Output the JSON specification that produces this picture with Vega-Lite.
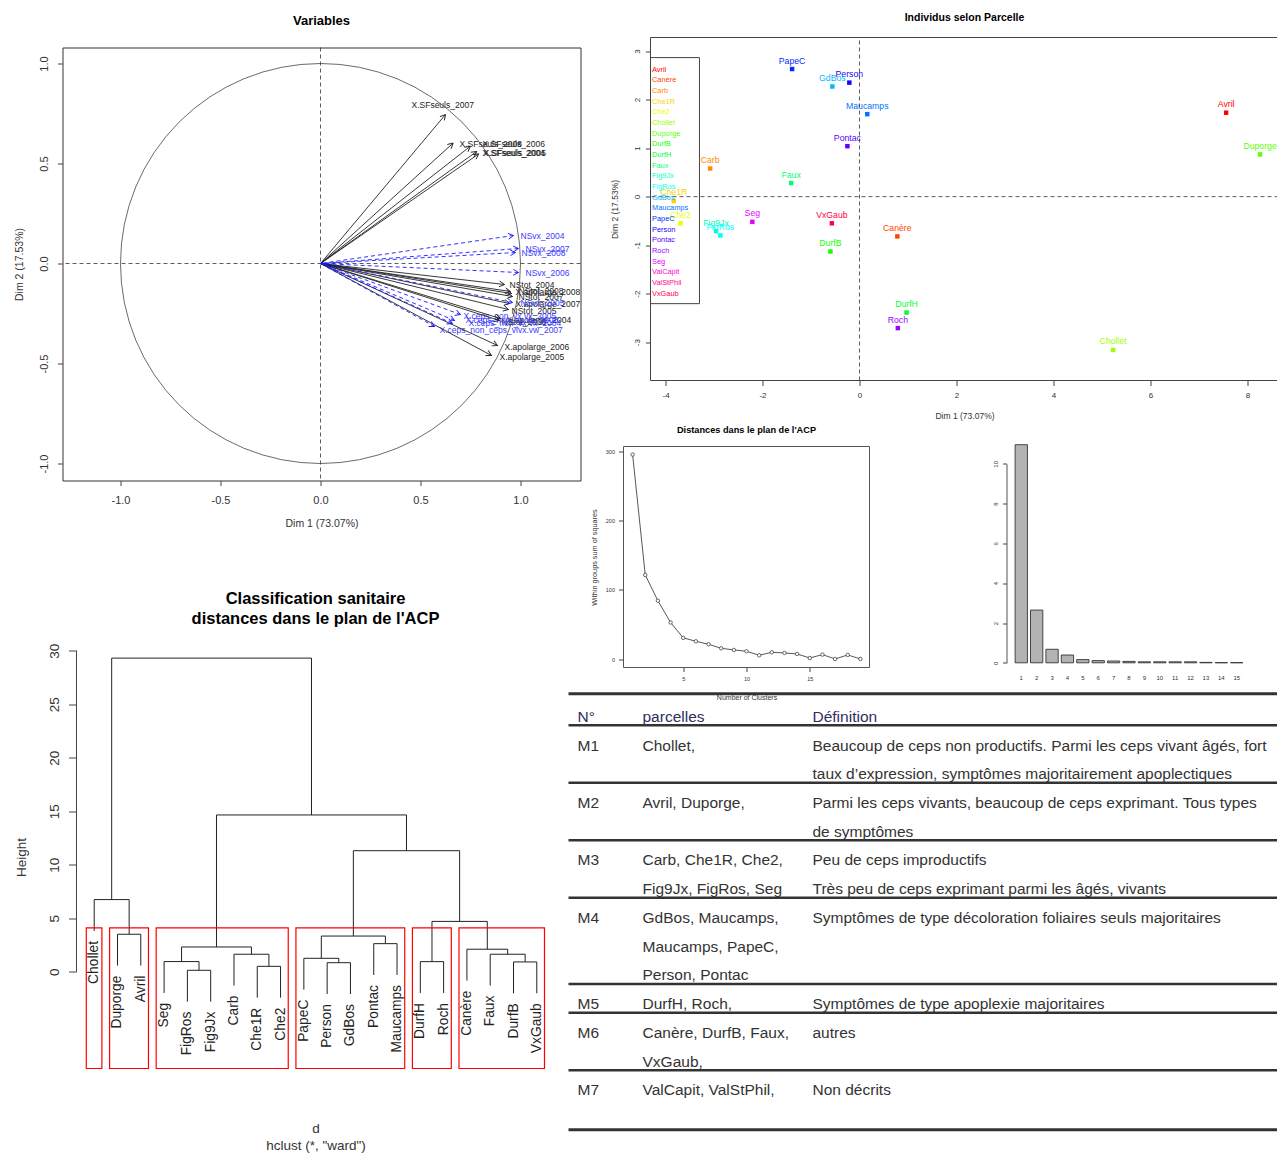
{
  "$schema": "https://vega.github.io/schema/vega-lite/v6.json",
  "padding": {"left": 13.5, "top": 12.5, "right": 0, "bottom": 0},
  "autosize": {"type": "pad"},
  "background": "white",
  "config": {
    "font": "Liberation Sans",
    "view": {"stroke": null},
    "axis": {"grid": false, "domain": false, "labelFont": "Liberation Sans", "titleFont": "Liberation Sans", "labelColor": "#333", "titleColor": "#333", "tickColor": "#444", "titleFontWeight": "normal", "labelFlush": false, "labelOverlap": false},
    "title": {"font": "Liberation Sans", "fontWeight": "bold", "color": "#000", "anchor": "middle", "frame": "group"},
    "text": {"font": "Liberation Sans"}
  },
  "datasets": {
    "vars": [
      {"name": "X.SFseuls_2007", "x": 0.625, "y": 0.745, "lx": 0.455, "ly": 0.795, "grp": "active"},
      {"name": "X.SFseuls_2008", "x": 0.663, "y": 0.602, "lx": 0.695, "ly": 0.6, "grp": "active"},
      {"name": "X.SFseuls_2006", "x": 0.749, "y": 0.586, "lx": 0.81, "ly": 0.6, "grp": "active"},
      {"name": "X.SFseuls_2004", "x": 0.781, "y": 0.56, "lx": 0.81, "ly": 0.555, "grp": "active"},
      {"name": "X.SFseuls_2005", "x": 0.791, "y": 0.548, "lx": 0.815, "ly": 0.553, "grp": "active"},
      {"name": "NStot_2004", "x": 0.92, "y": -0.105, "lx": 0.945, "ly": -0.105, "grp": "active"},
      {"name": "NStot_2008", "x": 0.95, "y": -0.14, "lx": 0.99, "ly": -0.135, "grp": "active"},
      {"name": "X.apolarge_2008", "x": 0.955, "y": -0.15, "lx": 0.975, "ly": -0.14, "grp": "active"},
      {"name": "NStot_2007", "x": 0.96, "y": -0.165, "lx": 0.99, "ly": -0.165, "grp": "active"},
      {"name": "X.apolarge_2007", "x": 0.945, "y": -0.2, "lx": 0.975, "ly": -0.2, "grp": "active"},
      {"name": "NStot_2005", "x": 0.94, "y": -0.23, "lx": 0.955, "ly": -0.235, "grp": "active"},
      {"name": "NStot_2006", "x": 0.895, "y": -0.285, "lx": 0.905, "ly": -0.29, "grp": "active"},
      {"name": "X.apolarge_2004", "x": 0.9, "y": -0.275, "lx": 0.93, "ly": -0.28, "grp": "active"},
      {"name": "X.apolarge_2006", "x": 0.885, "y": -0.41, "lx": 0.92, "ly": -0.415, "grp": "active"},
      {"name": "X.apolarge_2005", "x": 0.855, "y": -0.46, "lx": 0.895, "ly": -0.465, "grp": "active"},
      {"name": "NSvx_2004", "x": 0.965, "y": 0.14, "lx": 1.0, "ly": 0.14, "grp": "supp"},
      {"name": "NSvx_2007", "x": 0.99, "y": 0.075, "lx": 1.025, "ly": 0.075, "grp": "supp"},
      {"name": "NSvx_2008", "x": 0.975, "y": 0.055, "lx": 1.005, "ly": 0.055, "grp": "supp"},
      {"name": "NSvx_2006", "x": 0.99, "y": -0.045, "lx": 1.025, "ly": -0.045, "grp": "supp"},
      {"name": "NSvx_2005", "x": 0.96, "y": -0.195, "lx": 1.0, "ly": -0.195, "grp": "supp"},
      {"name": "X.ceps_non_vx.vx_2005", "x": 0.7, "y": -0.255, "lx": 0.715, "ly": -0.26, "grp": "supp"},
      {"name": "X.ceps_non_vx.vx_2008", "x": 0.67, "y": -0.285, "lx": 0.725, "ly": -0.28, "grp": "supp"},
      {"name": "X.ceps_non_vx.vx_2004", "x": 0.66, "y": -0.3, "lx": 0.74, "ly": -0.295, "grp": "supp"},
      {"name": "X.ceps_non_ceps_vivx.vw_2007", "x": 0.57, "y": -0.315, "lx": 0.595, "ly": -0.33, "grp": "supp"}
    ],
    "indiv": [
      {"name": "PapeC", "x": -1.39, "y": 2.63},
      {"name": "Person", "x": -0.21, "y": 2.35},
      {"name": "GdBos", "x": -0.56, "y": 2.27},
      {"name": "Maucamps", "x": 0.16, "y": 1.7},
      {"name": "Pontac", "x": -0.25, "y": 1.04},
      {"name": "Avril", "x": 7.56, "y": 1.73},
      {"name": "Duporge", "x": 8.26, "y": 0.87},
      {"name": "Carb", "x": -3.08, "y": 0.58},
      {"name": "Faux", "x": -1.41, "y": 0.28},
      {"name": "Che1R", "x": -3.83, "y": -0.09},
      {"name": "Che2", "x": -3.69, "y": -0.55},
      {"name": "Fig9Jx", "x": -2.96, "y": -0.71},
      {"name": "FigRos", "x": -2.87, "y": -0.8},
      {"name": "Seg", "x": -2.21, "y": -0.52},
      {"name": "VxGaub", "x": -0.57, "y": -0.55},
      {"name": "Canère", "x": 0.78, "y": -0.82},
      {"name": "DurfB", "x": -0.6, "y": -1.13},
      {"name": "DurfH", "x": 0.97, "y": -2.39},
      {"name": "Roch", "x": 0.79, "y": -2.71},
      {"name": "Chollet", "x": 5.23, "y": -3.16}
    ],
    "parcelles": [
      {"name": "Avril"}, {"name": "Canère"}, {"name": "Carb"}, {"name": "Che1R"}, {"name": "Che2"},
      {"name": "Chollet"}, {"name": "Duporge"}, {"name": "DurfB"}, {"name": "DurfH"}, {"name": "Faux"},
      {"name": "Fig9Jx"}, {"name": "FigRos"}, {"name": "GdBos"}, {"name": "Maucamps"}, {"name": "PapeC"},
      {"name": "Person"}, {"name": "Pontac"}, {"name": "Roch"}, {"name": "Seg"}, {"name": "ValCapit"},
      {"name": "ValStPhil"}, {"name": "VxGaub"}
    ],
    "wss": [
      {"k": 1, "wss": 295.2}, {"k": 2, "wss": 121.6}, {"k": 3, "wss": 84.4}, {"k": 4, "wss": 53.1},
      {"k": 5, "wss": 30.9}, {"k": 6, "wss": 26.0}, {"k": 7, "wss": 21.7}, {"k": 8, "wss": 15.9},
      {"k": 9, "wss": 13.5}, {"k": 10, "wss": 11.6}, {"k": 11, "wss": 5.8}, {"k": 12, "wss": 10.1},
      {"k": 13, "wss": 9.2}, {"k": 14, "wss": 7.7}, {"k": 15, "wss": 1.9}, {"k": 16, "wss": 6.8},
      {"k": 17, "wss": 0.5}, {"k": 18, "wss": 6.3}, {"k": 19, "wss": 0.5}
    ],
    "eig": [
      {"k": 1, "eig": 10.96}, {"k": 2, "eig": 2.65}, {"k": 3, "eig": 0.68}, {"k": 4, "eig": 0.39},
      {"k": 5, "eig": 0.16}, {"k": 6, "eig": 0.11}, {"k": 7, "eig": 0.09}, {"k": 8, "eig": 0.07},
      {"k": 9, "eig": 0.05}, {"k": 10, "eig": 0.05}, {"k": 11, "eig": 0.05}, {"k": 12, "eig": 0.05},
      {"k": 13, "eig": 0.02}, {"k": 14, "eig": 0.01}, {"k": 15, "eig": 0.01}
    ],
    "merges": [
      {"id": "A", "xl": 2, "xr": 3, "h": 3.51, "hl": 0.58, "hr": 0.58},
      {"id": "B", "xl": 1, "xr": 2.5, "h": 6.75, "hl": 3.82, "hr": 3.51},
      {"id": "C", "xl": 5, "xr": 6, "h": 0.14, "hl": -2.79, "hr": -2.79},
      {"id": "D", "xl": 4, "xr": 5.5, "h": 0.955, "hl": -1.975, "hr": 0.14},
      {"id": "E", "xl": 8, "xr": 9, "h": 0.51, "hl": -2.42, "hr": -2.42},
      {"id": "F", "xl": 7, "xr": 8.5, "h": 1.64, "hl": -1.29, "hr": 0.51},
      {"id": "G", "xl": 4.75, "xr": 7.75, "h": 2.32, "hl": 0.955, "hr": 1.64},
      {"id": "H", "xl": 11, "xr": 12, "h": 0.85, "hl": -2.08, "hr": -2.08},
      {"id": "I", "xl": 10, "xr": 11.5, "h": 1.26, "hl": -1.67, "hr": 0.85},
      {"id": "J", "xl": 13, "xr": 14, "h": 2.63, "hl": -0.3, "hr": -0.3},
      {"id": "K", "xl": 10.75, "xr": 13.5, "h": 3.34, "hl": 1.26, "hr": 2.63},
      {"id": "L", "xl": 15, "xr": 16, "h": 0.95, "hl": -1.98, "hr": -1.98},
      {"id": "M", "xl": 19, "xr": 20, "h": 0.92, "hl": -2.01, "hr": -2.01},
      {"id": "N", "xl": 18, "xr": 19.5, "h": 1.64, "hl": -1.29, "hr": 0.92},
      {"id": "O", "xl": 17, "xr": 18.75, "h": 2.11, "hl": -0.82, "hr": 1.64},
      {"id": "P", "xl": 15.5, "xr": 17.875, "h": 4.71, "hl": 0.95, "hr": 2.11},
      {"id": "Q", "xl": 12.125, "xr": 16.6875, "h": 11.32, "hl": 3.34, "hr": 4.71},
      {"id": "R", "xl": 6.25, "xr": 14.406, "h": 14.66, "hl": 2.32, "hr": 11.32},
      {"id": "S", "xl": 1.75, "xr": 10.328, "h": 29.32, "hl": 6.75, "hr": 14.66}
    ],
    "leaves": [
      {"leaf": "Chollet", "pos": 1, "end": 3.82}, {"leaf": "Duporge", "pos": 2, "end": 0.58},
      {"leaf": "Avril", "pos": 3, "end": 0.58}, {"leaf": "Seg", "pos": 4, "end": -1.975},
      {"leaf": "FigRos", "pos": 5, "end": -2.79}, {"leaf": "Fig9Jx", "pos": 6, "end": -2.79},
      {"leaf": "Carb", "pos": 7, "end": -1.29}, {"leaf": "Che1R", "pos": 8, "end": -2.42},
      {"leaf": "Che2", "pos": 9, "end": -2.42}, {"leaf": "PapeC", "pos": 10, "end": -1.67},
      {"leaf": "Person", "pos": 11, "end": -2.08}, {"leaf": "GdBos", "pos": 12, "end": -2.08},
      {"leaf": "Pontac", "pos": 13, "end": -0.3}, {"leaf": "Maucamps", "pos": 14, "end": -0.3},
      {"leaf": "DurfH", "pos": 15, "end": -1.98}, {"leaf": "Roch", "pos": 16, "end": -1.98},
      {"leaf": "Canère", "pos": 17, "end": -0.82}, {"leaf": "Faux", "pos": 18, "end": -1.29},
      {"leaf": "DurfB", "pos": 19, "end": -2.01}, {"leaf": "VxGaub", "pos": 20, "end": -2.01}
    ],
    "boxes": [
      {"cluster": "M1", "x1": 0.66, "x2": 1.33},
      {"cluster": "M2", "x1": 1.66, "x2": 3.33},
      {"cluster": "M3", "x1": 3.66, "x2": 9.33},
      {"cluster": "M4", "x1": 9.66, "x2": 14.33},
      {"cluster": "M5", "x1": 14.66, "x2": 16.33},
      {"cluster": "M6", "x1": 16.66, "x2": 20.33}
    ],
    "table": [
      {"group": "H", "line": 0, "col": 1, "text": "N°"},
      {"group": "H", "line": 0, "col": 2, "text": "parcelles"},
      {"group": "H", "line": 0, "col": 3, "text": "Définition"},
      {"group": "M1", "line": 1, "col": 1, "text": "M1"},
      {"group": "M1", "line": 1, "col": 2, "text": "Chollet,"},
      {"group": "M1", "line": 1, "col": 3, "text": "Beaucoup de ceps non productifs. Parmi les ceps vivant âgés, fort"},
      {"group": "M1", "line": 2, "col": 3, "text": "taux d’expression, symptômes majoritairement apoplectiques"},
      {"group": "M2", "line": 3, "col": 1, "text": "M2"},
      {"group": "M2", "line": 3, "col": 2, "text": "Avril, Duporge,"},
      {"group": "M2", "line": 3, "col": 3, "text": "Parmi les ceps vivants, beaucoup de ceps exprimant. Tous types"},
      {"group": "M2", "line": 4, "col": 3, "text": "de symptômes"},
      {"group": "M3", "line": 5, "col": 1, "text": "M3"},
      {"group": "M3", "line": 5, "col": 2, "text": "Carb, Che1R, Che2,"},
      {"group": "M3", "line": 5, "col": 3, "text": "Peu de ceps improductifs"},
      {"group": "M3", "line": 6, "col": 2, "text": "Fig9Jx, FigRos, Seg"},
      {"group": "M3", "line": 6, "col": 3, "text": "Très peu de ceps exprimant parmi les âgés, vivants"},
      {"group": "M4", "line": 7, "col": 1, "text": "M4"},
      {"group": "M4", "line": 7, "col": 2, "text": "GdBos, Maucamps,"},
      {"group": "M4", "line": 7, "col": 3, "text": "Symptômes de type décoloration foliaires seuls majoritaires"},
      {"group": "M4", "line": 8, "col": 2, "text": "Maucamps, PapeC,"},
      {"group": "M4", "line": 9, "col": 2, "text": "Person, Pontac"},
      {"group": "M5", "line": 10, "col": 1, "text": "M5"},
      {"group": "M5", "line": 10, "col": 2, "text": "DurfH, Roch,"},
      {"group": "M5", "line": 10, "col": 3, "text": "Symptômes de type apoplexie majoritaires"},
      {"group": "M6", "line": 11, "col": 1, "text": "M6"},
      {"group": "M6", "line": 11, "col": 2, "text": "Canère, DurfB, Faux,"},
      {"group": "M6", "line": 11, "col": 3, "text": "autres"},
      {"group": "M6", "line": 12, "col": 2, "text": "VxGaub,"},
      {"group": "M7", "line": 13, "col": 1, "text": "M7"},
      {"group": "M7", "line": 13, "col": 2, "text": "ValCapit, ValStPhil,"},
      {"group": "M7", "line": 13, "col": 3, "text": "Non décrits"}
    ]
  },
  "spacing": -15,
  "hconcat": [
    {
      "spacing": 61,
      "vconcat": [
        {
          "width": 518, "height": 433,
          "title": {"text": "Variables", "fontSize": 13, "offset": 19},
          "view": {"stroke": "#333", "strokeWidth": 1},
          "data": {"name": "vars"},
          "layer": [
            {
              "mark": {"type": "text", "align": "left", "baseline": "middle", "fontSize": 8.5, "clip": true},
              "encoding": {
                "x": {"field": "lx", "type": "quantitative", "scale": {"domain": [-1.29, 1.3], "nice": false, "zero": false},
                  "axis": {"values": [-1, -0.5, 0, 0.5, 1], "labelExpr": "replace(format(datum.value, '.1f'), '−', '-')", "title": "Dim 1 (73.07%)", "labelFontSize": 11, "titleFontSize": 10.5, "tickSize": 5, "labelPadding": 9, "titlePadding": 13}},
                "y": {"field": "ly", "type": "quantitative", "scale": {"domain": [-1.085, 1.08], "nice": false, "zero": false},
                  "axis": {"values": [-1, -0.5, 0, 0.5, 1], "labelExpr": "replace(format(datum.value, '.1f'), '−', '-')", "title": "Dim 2 (17.53%)", "labelAngle": 270, "labelAlign": "center", "labelBaseline": "bottom", "labelFontSize": 11, "titleFontSize": 10.5, "tickSize": 5, "labelPadding": 8, "titlePadding": 14}},
                "text": {"field": "name", "type": "nominal"},
                "color": {"condition": {"test": "datum.grp == 'supp'", "value": "#3a3aff"}, "value": "#222"}
              }
            },
            {
              "data": {"values": [{"cx": 0, "cy": 0}]},
              "mark": {"type": "point", "shape": "circle", "size": 160000, "filled": false, "stroke": "#444", "strokeWidth": 0.8, "opacity": 1},
              "encoding": {
                "x": {"field": "cx", "type": "quantitative"},
                "y": {"field": "cy", "type": "quantitative"}
              }
            },
            {"data": {"values": [{"c": 0}]}, "mark": {"type": "rule", "strokeDash": [4, 3], "color": "#333", "strokeWidth": 0.8}, "encoding": {"x": {"field": "c", "type": "quantitative"}}},
            {"data": {"values": [{"c": 0}]}, "mark": {"type": "rule", "strokeDash": [4, 3], "color": "#333", "strokeWidth": 0.8}, "encoding": {"y": {"field": "c", "type": "quantitative"}}},
            {
              "transform": [{"filter": "datum.grp == 'active'"}],
              "mark": {"type": "rule", "strokeWidth": 0.9, "color": "#222"},
              "encoding": {
                "x": {"field": "x", "type": "quantitative"}, "y": {"field": "y", "type": "quantitative"},
                "x2": {"datum": 0}, "y2": {"datum": 0}
              }
            },
            {
              "transform": [{"filter": "datum.grp == 'supp'"}],
              "mark": {"type": "rule", "strokeWidth": 0.9, "color": "#1a1aff", "strokeDash": [4, 3]},
              "encoding": {
                "x": {"field": "x", "type": "quantitative"}, "y": {"field": "y", "type": "quantitative"},
                "x2": {"datum": 0}, "y2": {"datum": 0}
              }
            },
            {
              "transform": [{"calculate": "90 - atan2(datum.y, datum.x) * 180 / PI", "as": "ang"}],
              "mark": {"type": "point", "shape": "M-0.55,1L0,0L0.55,1", "size": 110, "filled": false, "strokeWidth": 0.9, "opacity": 1},
              "encoding": {
                "x": {"field": "x", "type": "quantitative"},
                "y": {"field": "y", "type": "quantitative"},
                "angle": {"field": "ang", "type": "quantitative", "scale": null},
                "color": {"condition": {"test": "datum.grp == 'supp'", "value": "#1a1aff"}, "value": "#222"}
              }
            }
          ]
        },
        {
          "width": 492, "height": 423,
          "title": {"text": ["Classification sanitaire", "distances dans le plan de l'ACP"], "fontSize": 16.5, "offset": 16, "lineHeight": 20, "dx": 7},
          "layer": [
            {
              "data": {"name": "merges"},
              "mark": {"type": "rule", "color": "#222", "strokeWidth": 1},
              "encoding": {
                "x": {"field": "xl", "type": "quantitative", "scale": {"domain": [0.24, 20.76], "range": [14, 492], "nice": false, "zero": false},
                  "axis": {"title": ["d", "hclust (*, \"ward\")"], "labels": false, "ticks": false, "titleFontSize": 13.5, "titlePadding": 53, "titleLineHeight": 17}},
                "x2": {"field": "xr"},
                "y": {"field": "h", "type": "quantitative", "scale": {"domain": [-9.04, 30.5], "nice": false, "zero": false},
                  "axis": {"values": [0, 5, 10, 15, 20, 25, 30], "title": "Height", "offset": -14, "labelAngle": 270, "labelAlign": "center", "labelBaseline": "bottom", "labelFontSize": 13.5, "titleFontSize": 13.5, "tickSize": 8, "labelPadding": 7, "titlePadding": 19}}
              }
            },
            {
              "data": {"name": "merges"},
              "mark": {"type": "rule", "color": "#222", "strokeWidth": 1},
              "encoding": {"x": {"field": "xl", "type": "quantitative"}, "y": {"field": "hl", "type": "quantitative"}, "y2": {"field": "h"}}
            },
            {
              "data": {"name": "merges"},
              "mark": {"type": "rule", "color": "#222", "strokeWidth": 1},
              "encoding": {"x": {"field": "xr", "type": "quantitative"}, "y": {"field": "hr", "type": "quantitative"}, "y2": {"field": "h"}}
            },
            {
              "data": {"name": "boxes"},
              "mark": {"type": "rect", "fill": "#ffffff", "fillOpacity": 0, "stroke": "#ff0000", "strokeWidth": 1.2},
              "encoding": {"x": {"field": "x1", "type": "quantitative"}, "x2": {"field": "x2"}, "y": {"datum": 4.11, "type": "quantitative"}, "y2": {"datum": -9.04}}
            },
            {
              "data": {"name": "leaves"},
              "mark": {"type": "text", "angle": 270, "align": "right", "baseline": "middle", "dx": -10, "fontSize": 13.8, "color": "#222"},
              "encoding": {"x": {"field": "pos", "type": "quantitative"}, "y": {"field": "end", "type": "quantitative"}, "text": {"field": "leaf", "type": "nominal"}}
            },
            {
              "data": {"values": [{"ax": 0.24, "lo": 0, "hi": 30}]},
              "mark": {"type": "rule", "color": "#444", "strokeWidth": 1},
              "encoding": {"x": {"field": "ax", "type": "quantitative"}, "y": {"field": "lo", "type": "quantitative"}, "y2": {"field": "hi"}}
            }
          ]
        }
      ]
    },
    {
      "spacing": -10,
      "vconcat": [
        {
          "spacing": 5,
          "vconcat": [
            {
              "width": 628, "height": 333,
              "title": {"text": "Individus selon Parcelle", "fontSize": 10.5, "offset": 14},
              "resolve": {"scale": {"y": "independent"}},
              "layer": [
                {
                  "data": {"name": "indiv"},
                  "layer": [
                    {
                      "mark": {"type": "point", "shape": "square", "size": 20, "filled": true, "opacity": 1},
                      "encoding": {
                        "x": {"field": "x", "type": "quantitative", "scale": {"domain": [-4.31, 8.64], "nice": false, "zero": false},
                          "axis": {"values": [-4, -2, 0, 2, 4, 6, 8], "labelExpr": "replace(datum.label, '−', '-')", "title": "Dim 1 (73.07%)", "labelFontSize": 8, "titleFontSize": 8.5, "tickSize": 5, "labelPadding": 6, "titlePadding": 12}},
                        "y": {"field": "y", "type": "quantitative", "scale": {"domain": [-3.79, 3.28], "range": [333, -10], "nice": false, "zero": false},
                          "axis": {"values": [-3, -2, -1, 0, 1, 2, 3], "labelExpr": "replace(datum.label, '−', '-')", "title": "Dim 2 (17.53%)", "labelAngle": 270, "labelAlign": "center", "labelBaseline": "bottom", "labelFontSize": 8, "titleFontSize": 8.5, "tickSize": 5, "labelPadding": 4, "titlePadding": 14}},
                        "color": {
                          "field": "name", "type": "nominal",
                          "scale": {
                            "domain": ["Avril", "Canère", "Carb", "Che1R", "Che2", "Chollet", "Duporge", "DurfB", "DurfH", "Faux", "Fig9Jx", "FigRos", "GdBos", "Maucamps", "PapeC", "Person", "Pontac", "Roch", "Seg", "ValCapit", "ValStPhil", "VxGaub"],
                            "range": ["#FF0000", "#FF4600", "#FF8B00", "#FFD100", "#E8FF00", "#A2FF00", "#5DFF00", "#17FF00", "#00FF2E", "#00FF74", "#00FFB9", "#00FFFF", "#00B9FF", "#0074FF", "#002EFF", "#1700FF", "#5D00FF", "#A200FF", "#E800FF", "#FF00D1", "#FF008B", "#FF0046"]
                          },
                          "legend": null
                        }
                      }
                    },
                    {
                      "mark": {"type": "text", "align": "center", "baseline": "middle", "dy": -8.5, "fontSize": 8.7, "clip": true},
                      "encoding": {
                        "x": {"field": "x", "type": "quantitative"},
                        "y": {"field": "y", "type": "quantitative"},
                        "text": {"field": "name", "type": "nominal"},
                        "color": {"field": "name", "type": "nominal", "legend": null}
                      }
                    },
                    {
                      "data": {"values": [{"c": 0, "lo": -3.79, "hi": 3.28}]},
                      "mark": {"type": "rule", "strokeDash": [4, 3], "color": "#333", "strokeWidth": 0.8},
                      "encoding": {"x": {"field": "c", "type": "quantitative"}, "y": {"field": "lo", "type": "quantitative"}, "y2": {"field": "hi"}}
                    },
                    {
                      "data": {"values": [{"c": 0}]},
                      "mark": {"type": "rule", "strokeDash": [4, 3], "color": "#333", "strokeWidth": 0.8},
                      "encoding": {"y": {"field": "c", "type": "quantitative"}}
                    },
                    {
                      "data": {"values": [{"x1": -4.31, "x2": -3.3, "y1": 2.866, "y2": -2.206}, {"x1": -4.31, "x2": 8.64, "y1": -3.79, "y2": 3.28}]},
                      "mark": {"type": "rect", "fill": "#ffffff", "fillOpacity": 0, "stroke": "#444", "strokeWidth": 1},
                      "encoding": {
                        "x": {"field": "x1", "type": "quantitative"}, "x2": {"field": "x2"},
                        "y": {"field": "y1", "type": "quantitative"}, "y2": {"field": "y2"}
                      }
                    }
                  ]
                },
                {
                  "data": {"name": "parcelles"},
                  "mark": {"type": "text", "align": "left", "baseline": "middle", "dx": 1.5, "fontSize": 7.4},
                  "encoding": {
                    "x": {"datum": -4.31, "type": "quantitative"},
                    "y": {"field": "name", "type": "nominal", "sort": null, "scale": {"type": "point", "range": [22, 246], "padding": 0}, "axis": null},
                    "text": {"field": "name", "type": "nominal"},
                    "color": {"field": "name", "type": "nominal", "legend": null}
                  }
                }
              ]
            },
            {
              "spacing": 95,
              "hconcat": [
                {
                  "width": 219, "height": 221,
                  "title": {"text": "Distances dans le plan de l'ACP", "fontSize": 9.2, "offset": 11, "dx": -13.5},
                  "data": {"name": "wss"},
                  "layer": [
                    {
                      "mark": {"type": "line", "color": "#444", "strokeWidth": 0.9},
                      "encoding": {
                        "x": {"field": "k", "type": "quantitative", "scale": {"domain": [0.28, 19.72], "range": [-27, 219], "nice": false, "zero": false},
                          "axis": {"values": [5, 10, 15], "title": "Number of Clusters", "labelFontSize": 5.5, "titleFontSize": 7, "tickSize": 4, "labelPadding": 5, "titlePadding": 11}},
                        "y": {"field": "wss", "type": "quantitative", "scale": {"domain": [-11.8, 306.8], "nice": false, "zero": false},
                          "axis": {"values": [0, 50, 100, 150, 200, 250, 300], "offset": 27, "title": "Within groups sum of squares", "labelFontSize": 5.5, "titleFontSize": 7.3, "tickSize": 5, "labelPadding": 4, "titlePadding": 7}}
                      }
                    },
                    {
                      "mark": {"type": "point", "shape": "circle", "size": 12, "filled": true, "fill": "white", "stroke": "#444", "strokeWidth": 0.8, "opacity": 1},
                      "encoding": {"x": {"field": "k", "type": "quantitative"}, "y": {"field": "wss", "type": "quantitative"}}
                    },
                    {
                      "data": {"values": [{"x1": 0.28, "x2": 19.72, "y1": -11.8, "y2": 306.8}]},
                      "mark": {"type": "rect", "fill": "#ffffff", "fillOpacity": 0, "stroke": "#555", "strokeWidth": 1},
                      "encoding": {
                        "x": {"field": "x1", "type": "quantitative"}, "x2": {"field": "x2"},
                        "y": {"field": "y1", "type": "quantitative"}, "y2": {"field": "y2"}
                      }
                    }
                  ]
                },
                {
                  "width": 245, "height": 216.3,
                  "data": {"name": "eig"},
                  "mark": {"type": "bar", "fill": "#b3b3b3", "stroke": "#333", "strokeWidth": 0.9},
                  "encoding": {
                    "x": {"field": "k", "type": "ordinal", "scale": {"paddingInner": 0.2, "paddingOuter": 0.56},
                      "axis": {"labelAngle": 0, "ticks": false, "labelFontSize": 6, "labelPadding": 12, "title": null}},
                    "y": {"field": "eig", "type": "quantitative", "scale": {"domain": [0, 10], "range": [216.3, 17.3], "nice": false},
                      "axis": {"values": [0, 2, 4, 6, 8, 10], "title": null, "domain": true, "domainColor": "#555", "labelAngle": 270, "labelAlign": "center", "labelBaseline": "bottom", "labelFontSize": 6, "tickSize": 4, "labelPadding": 4}}
                  }
                }
              ]
            }
          ]
        },
        {
          "width": 628, "height": 436,
          "data": {"name": "table"},
          "layer": [
            {
              "mark": {"type": "text", "align": "left", "baseline": "middle", "fontSize": 15.5, "limit": 466, "ellipsis": ""},
              "encoding": {
                "x": {"field": "col", "type": "quantitative", "scale": {"domain": [0, 1, 2, 3, 4], "range": [-82, -73, -8, 162, 628], "nice": false, "zero": false}, "axis": null},
                "y": {"field": "line", "type": "quantitative", "scale": {"domain": [-0.8, 14.37], "range": [-6.7, 429.3], "nice": false, "zero": false}, "axis": null},
                "text": {"field": "text", "type": "nominal"},
                "color": {"condition": {"test": "datum.group == 'H'", "value": "#2e2e62"}, "value": "#333"}
              }
            },
            {
              "transform": [
                {"filter": "datum.group != 'M7'"},
                {"aggregate": [{"op": "max", "field": "line", "as": "last"}], "groupby": ["group"]}
              ],
              "mark": {"type": "rule", "color": "#333", "strokeWidth": 2.5, "yOffset": 8.5},
              "encoding": {
                "y": {"field": "last", "type": "quantitative"},
                "x": {"datum": 0, "type": "quantitative"}, "x2": {"datum": 4}
              }
            },
            {
              "data": {"values": [{"edge": -0.8}, {"edge": 14.37}]},
              "mark": {"type": "rule", "color": "#333", "strokeWidth": 3},
              "encoding": {
                "y": {"field": "edge", "type": "quantitative"},
                "x": {"datum": 0, "type": "quantitative"}, "x2": {"datum": 4}
              }
            }
          ]
        }
      ]
    }
  ]
}
